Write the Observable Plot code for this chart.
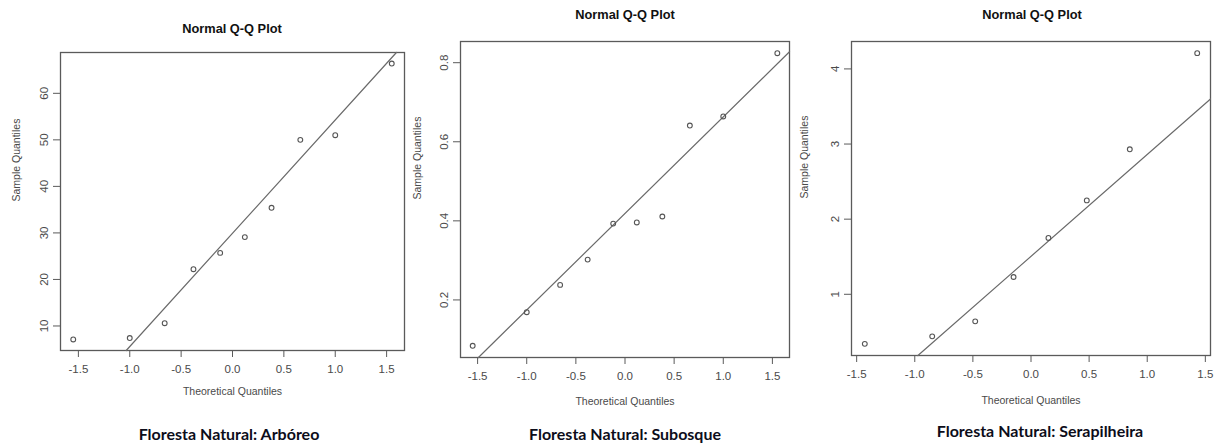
<!DOCTYPE html>
<html>
<head>
<meta charset="utf-8">
<script src="https://cdn.jsdelivr.net/npm/d3@7"></script>
<script src="https://cdn.jsdelivr.net/npm/@observablehq/plot@0.6"></script>
<style>
  html, body { margin: 0; padding: 0; background: #fff; }
  #root { position: relative; width: 1223px; height: 445px; overflow: hidden; background: #fff; }
  .panel { position: absolute; top: 0; }
  .title { position: absolute; transform: translate(-50%, -50%); font: bold 12.8px "Liberation Sans", Arial, sans-serif; color: #111; white-space: nowrap; }
  .caption { position: absolute; transform: translate(-50%, -50%); font: bold 16px Lato, "Open Sans", sans-serif; color: #0d0d1a; white-space: nowrap; }
</style>
</head>
<body>
<div id="root"></div>
<script>
// Theoretical quantiles (x)
const theoreticalN10 = [-1.55, -1.0, -0.66, -0.38, -0.12, 0.12, 0.38, 0.66, 1.0, 1.55];
const theoreticalN8 = [-1.43, -0.85, -0.48, -0.15, 0.15, 0.48, 0.85, 1.43];
// Sample quantiles (y)
const arboreo = [7.1, 7.4, 10.6, 22.2, 25.7, 29.1, 35.4, 50.0, 51.0, 66.4];
const subosque = [0.084, 0.169, 0.238, 0.302, 0.393, 0.396, 0.411, 0.641, 0.664, 0.824];
const serapilheira = [0.34, 0.44, 0.64, 1.23, 1.75, 2.25, 2.93, 4.21];
// Tick values
const xTicks = [-1.5, -1.0, -0.5, 0.0, 0.5, 1.0, 1.5];
const yTicksArboreo = [10, 20, 30, 40, 50, 60];
const yTicksSubosque = [0.2, 0.4, 0.6, 0.8];
const yTicksSerapilheira = [1, 2, 3, 4];
// Texts
const plotTitle = "Normal Q-Q Plot";
const xLabel = "Theoretical Quantiles";
const yLabel = "Sample Quantiles";
const captions = ["Floresta Natural: Arbóreo", "Floresta Natural: Subosque", "Floresta Natural: Serapilheira"];

const root = document.getElementById("root");
const Q75 = 0.6744897501960817; // qnorm(0.75)

function pad(ext) { const r = ext[1] - ext[0]; return [ext[0] - 0.04 * r, ext[1] + 0.04 * r]; }

function qqLine(ys, xd, yd) {
  const s = [...ys].sort((a, b) => a - b);
  const q1 = d3.quantile(s, 0.25), q3 = d3.quantile(s, 0.75);
  const slope = (q3 - q1) / (2 * Q75);
  const b = (q1 + q3) / 2;
  const f = x => b + slope * x;
  const inv = y => (y - b) / slope;
  let x0 = xd[0], x1 = xd[1];
  if (f(x0) < yd[0]) x0 = inv(yd[0]);
  if (f(x1) > yd[1]) x1 = inv(yd[1]);
  return [{x: x0, y: f(x0)}, {x: x1, y: f(x1)}];
}

function panel({xs, ys, yTicks, yFmt, left, width, mL, mR, mT, mB, ylDx, xlDy}) {
  const xd = pad(d3.extent(xs));
  const yd = pad(d3.extent(ys));
  const pts = xs.map((x, i) => ({x, y: ys[i]}));
  const chart = Plot.plot({
    width, height: 445,
    marginLeft: mL, marginRight: mR, marginTop: mT, marginBottom: mB,
    style: {fontFamily: "'Liberation Sans', Arial, sans-serif", fontSize: "11.5px", color: "#4a4a4a", background: "transparent"},
    x: {domain: xd},
    y: {domain: yd},
    marks: [
      Plot.frame({stroke: "#5a5a5a", strokeWidth: 1.3}),
      Plot.axisX({ticks: xTicks, tickSize: 7, tickPadding: 7, tickFormat: d => d.toFixed(1), label: null, stroke: "#5a5a5a", fill: "#4a4a4a"}),
      Plot.axisY({ticks: yTicks, tickSize: 7, tickPadding: 6, tickRotate: -90, tickFormat: yFmt, label: null, stroke: "#5a5a5a", fill: "#4a4a4a"}),
      Plot.line(qqLine(ys, xd, yd), {x: "x", y: "y", stroke: "#6a6a6a", strokeWidth: 1.2}),
      Plot.dot(pts, {x: "x", y: "y", r: 2.4, stroke: "#555", strokeWidth: 1.1, fill: "none"}),
      Plot.text([xLabel], {frameAnchor: "bottom", dy: xlDy, fontSize: 10.5, fill: "#4a4a4a"}),
      Plot.text([yLabel], {frameAnchor: "left", dx: ylDx, rotate: -90, fontSize: 10.5, fill: "#4a4a4a"})
    ]
  });
  const div = document.createElement("div");
  div.className = "panel";
  div.style.left = left + "px";
  div.appendChild(chart);
  root.appendChild(div);
}

panel({xs: theoreticalN10, ys: arboreo, yTicks: yTicksArboreo, yFmt: d => String(d),
  left: 0, width: 408, mL: 60, mR: 4, mT: 52, mB: 95, ylDx: -44, xlDy: 44});
panel({xs: theoreticalN10, ys: subosque, yTicks: yTicksSubosque, yFmt: d => d.toFixed(1),
  left: 408, width: 390, mL: 52, mR: 9, mT: 41, mB: 88, ylDx: -43, xlDy: 47});
panel({xs: theoreticalN8, ys: serapilheira, yTicks: yTicksSerapilheira, yFmt: d => String(d),
  left: 798, width: 425, mL: 53, mR: 13, mT: 41, mB: 90, ylDx: -47, xlDy: 48});

function addText(cls, text, x, y) {
  const d = document.createElement("div");
  d.className = cls; d.textContent = text;
  d.style.left = x + "px"; d.style.top = y + "px";
  root.appendChild(d);
}
addText("title", plotTitle, 232, 28);
addText("title", plotTitle, 625, 14);
addText("title", plotTitle, 1032, 14);
addText("caption", captions[0], 229, 433);
addText("caption", captions[1], 625, 433);
addText("caption", captions[2], 1040, 430);
</script>
</body>
</html>
